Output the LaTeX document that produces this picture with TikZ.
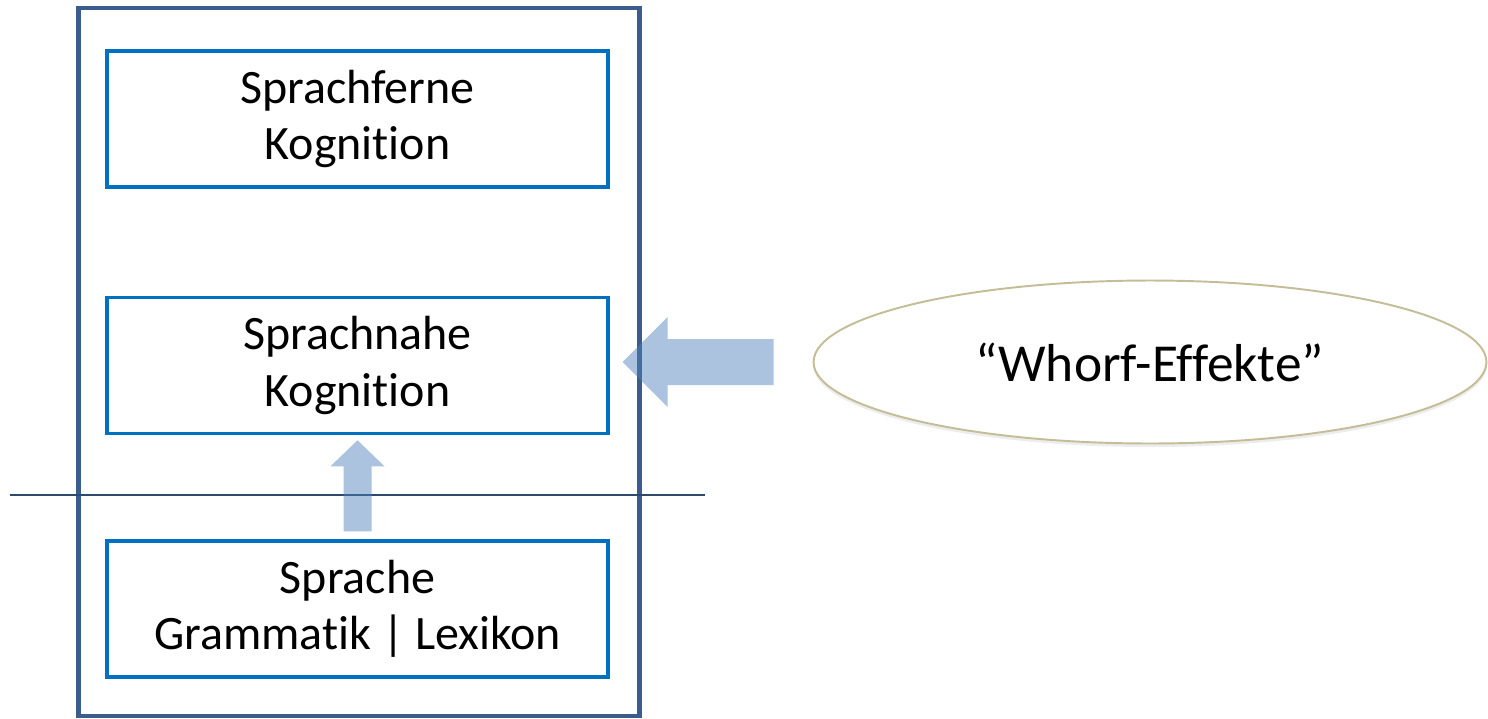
\documentclass[tikz,border=0pt]{standalone}
\usepackage{fontspec}
\setmainfont{Carlito}[Ligatures=NoCommon]
\usetikzlibrary{positioning,shapes.geometric}
\definecolor{rahmen}{HTML}{3A5D8C}
\definecolor{kasten}{HTML}{0070C0}
\definecolor{pfeil}{HTML}{4F81BD}
\definecolor{oval}{HTML}{C4BD97}
\definecolor{linie}{HTML}{2C4A6E}

\begin{document}
\begin{tikzpicture}[
    x=0.02cm, y=-0.02cm,
    box/.style={draw=kasten, line width=2pt, minimum width=10.02cm, minimum height=2.72cm, align=center, text=black, font=\fontsize{27.3}{32}\selectfont},
    blockpfeil/.style={fill=pfeil, fill opacity=0.48, draw=none}
  ]
    \useasboundingbox (0,0) rectangle (1488,718);
    \draw[rahmen, line width=2.3pt] (78.5,8) rectangle (639.5,716);

    \node[box] (fern) at (357.5,119) {Sprachferne\\Kognition};
    \node[box] (nah)  at (357.5,365.5) {Sprachnahe\\Kognition};
    \node[box] (sprache) at (357.5,609) {Sprache\\Grammatik | Lexikon};

    \coordinate (schnittL) at (10,495);
    \coordinate (schnittR) at (705,495);
    \draw[linie, line width=1.1pt] (schnittL) -- (schnittR);

    \fill[black!7] (1150,365) ellipse [x radius=337, y radius=82];
    \node[ellipse, draw=oval, fill=white, line width=1.1pt, minimum width=13.46cm, minimum height=3.26cm,
          font=\fontsize{30.4}{36}\selectfont] (whorf) at (1150,362) {“Whorf-Effekte”};

    % Blockpfeile
    \fill[blockpfeil] (whorf.west) ++(-39,-23) -- ++(-106,0) -- ++(0,-22)
        -- ++(-45,45) -- ++(45,45) -- ++(0,-22) -- ++(106,0) -- cycle;
    \fill[blockpfeil] (sprache.north) ++(-14,-8) -- ++(0,-65) -- ++(-13,0)
        -- ++(27,-26) -- ++(27,26) -- ++(-13,0) -- ++(0,65) -- cycle;
  \end{tikzpicture}
\end{document}
